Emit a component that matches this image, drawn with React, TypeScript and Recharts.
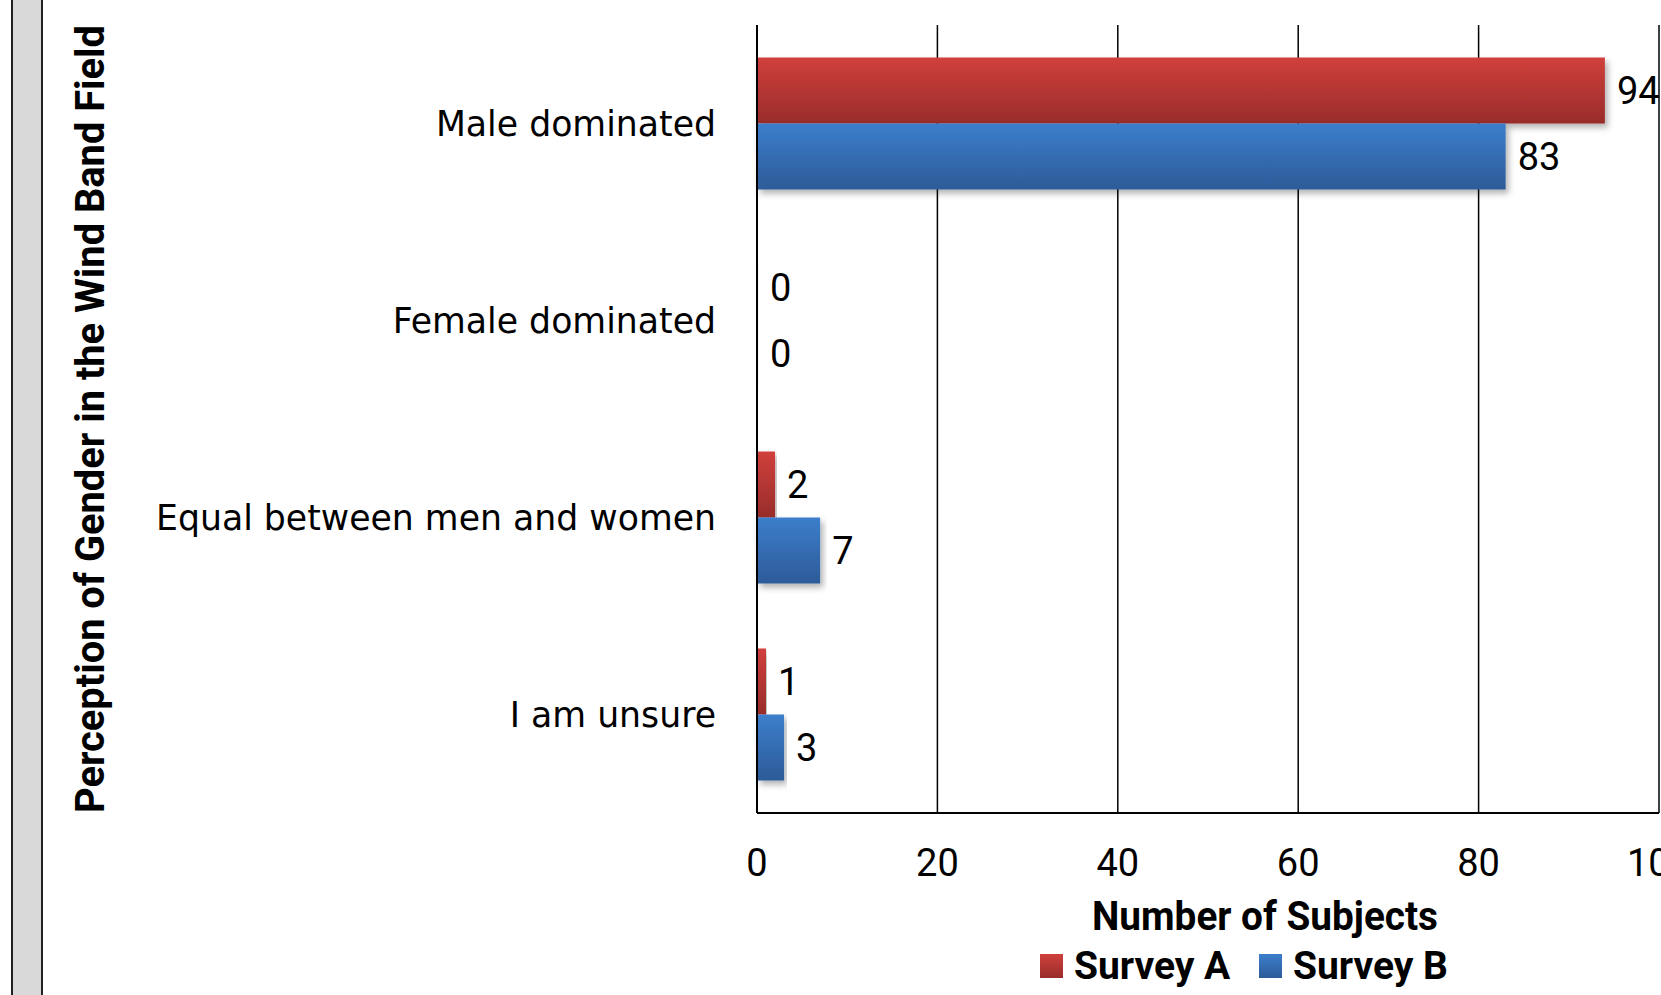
import { BarChart, Bar, XAxis, YAxis, CartesianGrid, LabelList } from 'recharts';

const categories = ['Male dominated', 'Female dominated', 'Equal between men and women', 'I am unsure'];
const surveyA = [94, 0, 2, 1];
const surveyB = [83, 0, 7, 3];
const xTicks = [0, 20, 40, 60, 80, 100];

const NUM_FONT = 'Roboto, sans-serif';

const data = categories.map((name, i) => ({ name, a: surveyA[i], b: surveyB[i] }));

// condensed bold titles, squeezed to the reference width
function XTitle(props: any) {
  const vb = props.viewBox || {};
  const cx = vb.x + vb.width / 2 + 57;
  return (
    <text x={cx} y={vb.y + 117} textAnchor="middle" fontFamily={NUM_FONT} fontWeight={700} fontSize={40} fill="#000"
      textLength={346} lengthAdjust="spacingAndGlyphs">
      Number of Subjects
    </text>
  );
}

function YTitle(props: any) {
  const vb = props.viewBox || {};
  const cx = 104;
  const cy = vb.y + vb.height / 2;
  return (
    <text x={cx} y={cy} transform={`rotate(-90, ${cx}, ${cy})`} textAnchor="middle" fontFamily={NUM_FONT} fontWeight={700}
      fontSize={40} fill="#000" textLength={788} lengthAdjust="spacingAndGlyphs">
      Perception of Gender in the Wind Band Field
    </text>
  );
}

function LegendBox() {
  const item = (label: string, top: string, bottom: string, width: number) => (
    <span style={{ display: 'inline-flex', alignItems: 'center', marginRight: 30 }}>
      <span style={{ width: 23, height: 24, background: `linear-gradient(${top}, ${bottom})`, marginRight: 11, display: 'inline-block' }} />
      <span style={{ display: 'inline-block', width }}>{label}</span>
    </span>
  );
  return (
    <div style={{ position: 'absolute', left: 1040, top: 945, fontFamily: NUM_FONT, fontWeight: 700, fontSize: 39, color: '#000', whiteSpace: 'nowrap', lineHeight: '40px' }}>
      {item('Survey A', '#d0403c', '#982c2a', 155)}
      {item('Survey B', '#3c7ecc', '#2d5b98', 155)}
    </div>
  );
}

export default function App() {
  return (
    <div style={{ position: 'absolute', left: 0, top: 0, width: 1661, height: 995, overflow: 'hidden', background: '#fff' }}>
      {/* frame edge at the left */}
      <div style={{ position: 'absolute', left: 11, top: 0, width: 28, height: 995, background: '#d9d9d9', borderLeft: '2px solid #222', borderRight: '2px solid #222' }} />
      <BarChart
        width={1720}
        height={995}
        data={data}
        layout="vertical"
        margin={{ top: 25, right: 61, bottom: 0, left: 0 }}
        barCategoryGap="16.5%"
        barGap={0}
      >
        <defs>
          <linearGradient id="gradA" x1="0" y1="0" x2="0" y2="1">
            <stop offset="0%" stopColor="#d0403c" />
            <stop offset="100%" stopColor="#982c2a" />
          </linearGradient>
          <linearGradient id="gradB" x1="0" y1="0" x2="0" y2="1">
            <stop offset="0%" stopColor="#3c7ecc" />
            <stop offset="100%" stopColor="#2d5b98" />
          </linearGradient>
          <filter id="barShadow" x="-5%" y="-20%" width="115%" height="150%">
            <feDropShadow dx="3" dy="4" stdDeviation="3" floodColor="#000" floodOpacity="0.3" />
          </filter>
        </defs>
        <CartesianGrid horizontal={false} stroke="#000" strokeWidth={1.5} />
        <XAxis
          type="number"
          domain={[0, 100]}
          ticks={xTicks}
          height={182}
          tickLine={false}
          tickSize={0}
          tickMargin={36}
          axisLine={{ stroke: '#000', strokeWidth: 2 }}
          tick={{ fill: '#000', fontSize: 38, fontFamily: NUM_FONT }}
          label={<XTitle />}
        />
        <XAxis xAxisId="top" orientation="top" type="number" domain={[0, 100]} height={0} tick={false} tickLine={false} axisLine={{ stroke: '#000', strokeWidth: 2 }} />
        <YAxis
          type="category"
          dataKey="name"
          width={757}
          tickLine={false}
          tickSize={0}
          tickMargin={41}
          axisLine={{ stroke: '#000', strokeWidth: 2 }}
          tick={{ fill: '#000', fontSize: 34.7, fontFamily: 'DejaVu Sans' }}
          label={<YTitle />}
        />
        <Bar dataKey="a" name="Survey A" fill="url(#gradA)" filter="url(#barShadow)" minPointSize={1} isAnimationActive={false}>
          <LabelList dataKey="a" position="right" offset={12} fill="#000" fontSize={38} fontFamily={NUM_FONT} />
        </Bar>
        <Bar dataKey="b" name="Survey B" fill="url(#gradB)" filter="url(#barShadow)" minPointSize={1} isAnimationActive={false}>
          <LabelList dataKey="b" position="right" offset={12} fill="#000" fontSize={38} fontFamily={NUM_FONT} />
        </Bar>
      </BarChart>
      <LegendBox />
    </div>
  );
}
